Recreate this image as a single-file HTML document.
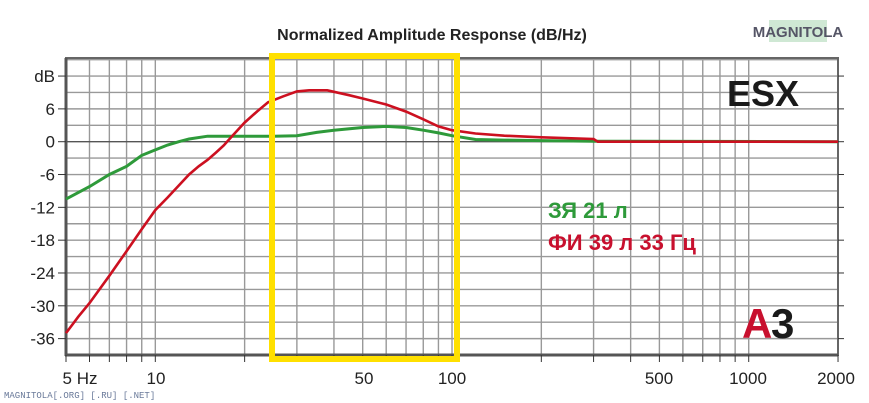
<!DOCTYPE html>
<html><head><meta charset="utf-8"><style>
body{margin:0;background:#fff;}
svg{display:block;font-family:"Liberation Sans",sans-serif;}
</style></head><body>
<svg id="s" width="869" height="403" viewBox="0 0 869 403" xmlns="http://www.w3.org/2000/svg">
<rect width="869" height="403" fill="#fff"/>
<text x="432" y="40" text-anchor="middle" font-size="16" font-weight="bold" fill="#222">Normalized Amplitude Response (dB/Hz)</text>
<g id="grid" stroke="#999" stroke-width="1.4"></g>
<rect x="66" y="58" width="772" height="297" fill="none" stroke="#666" stroke-width="2"/>
<line x1="65" y1="355" x2="838" y2="355" stroke="#555" stroke-width="3"/>
<line x1="66" y1="58" x2="66" y2="356" stroke="#555" stroke-width="3"/>
<g id="ticks" stroke="#333" stroke-width="1"></g>
<g id="ylab" font-size="17" fill="#222" text-anchor="end"></g>
<g font-size="17" fill="#222" text-anchor="middle">
<text x="80" y="384">5 Hz</text><text x="156" y="384">10</text><text x="364" y="384">50</text><text x="452" y="384">100</text><text x="659" y="384">500</text><text x="748" y="384">1000</text><text x="836" y="384">2000</text>
</g>
<path id="g" fill="none" stroke="#2e9a3a" stroke-width="3"/>
<path id="r" fill="none" stroke="#cc1020" stroke-width="2.6"/>
<rect x="272" y="56" width="185" height="303" fill="none" stroke="#ffe000" stroke-width="6"/>
<text x="727" y="106" font-size="36" font-weight="bold" fill="#1a1a1a">ESX</text>
<text x="548" y="218" font-size="22" font-weight="bold" fill="#2e9a3a">ЗЯ 21 л</text>
<text x="548" y="250" font-size="22" font-weight="bold" fill="#c8102e">ФИ 39 л 33 Гц</text>
<text x="742" y="338" font-size="42" font-weight="bold" fill="#c8102e" letter-spacing="-6">A</text>
<text x="771" y="338" font-size="42" font-weight="bold" fill="#1a1a1a">3</text>
<rect x="769" y="20" width="58" height="22" fill="#cfe8d4"/>
<text x="798" y="37" font-size="15" font-weight="bold" text-anchor="middle" fill="#556">MAGNITOLA</text>
<text x="4" y="398" font-size="9" fill="#6a7a9a" font-family="Liberation Mono,monospace">MAGNITOLA[.ORG] [.RU] [.NET]</text>
</svg>
<script>
var X=f=>66+Math.log10(f/5)*296.7, Y=d=>141.7-d*5.47;
var gr=document.getElementById('grid'),tk=document.getElementById('ticks'),yl=document.getElementById('ylab'),ns="http://www.w3.org/2000/svg";
function L(p,a){var e=document.createElementNS(ns,'line');for(var k in a)e.setAttribute(k,a[k]);p.appendChild(e);}
var fs=[6,7,8,9,10,20,30,40,50,60,70,80,90,100,200,300,400,500,600,700,800,900,1000];
fs.forEach(f=>{var x=X(f);L(gr,{x1:x,y1:58,x2:x,y2:355});L(tk,{x1:x,y1:355,x2:x,y2:362});});
[5,2000].forEach(f=>L(tk,{x1:X(f),y1:355,x2:X(f),y2:362}));
for(var d=-39;d<=15;d+=3){var y=Y(d);L(gr,{x1:66,y1:y,x2:838,y2:y,stroke:d==0?'#555':'#999'});}
for(var d=-36;d<=12;d+=6){var y=Y(d);L(tk,{x1:58,y1:y,x2:66,y2:y});L(tk,{x1:838,y1:y,x2:844,y2:y});var t=document.createElementNS(ns,'text');t.setAttribute('x',55);t.setAttribute('y',y+6);t.textContent=d==12?'dB':d;yl.appendChild(t);}
function P(id,pts){var s='';pts.forEach((p,i)=>s+=(i?'L':'M')+X(p[0]).toFixed(1)+' '+Y(p[1]).toFixed(1));document.getElementById(id).setAttribute('d',s);}
P('g',[[5,-10.5],[6,-8.2],[7,-6],[8,-4.5],[9,-2.5],[10,-1.5],[11,-0.6],[12,0],[13,0.5],[15,1],[20,1],[25,1],[30,1.1],[35,1.7],[40,2.1],[50,2.6],[60,2.8],[70,2.6],[80,2.1],[90,1.6],[100,1.1],[120,0.4],[150,0.3],[200,0.2],[300,0.1],[2000,0]]);
P('r',[[5,-35],[5.5,-32],[6,-29.5],[7,-24.5],[8,-20],[9,-16],[10,-12.5],[11,-10.2],[12,-8],[13,-6],[14,-4.5],[15,-3.3],[16,-2],[17,-0.7],[18,0.8],[19,2.2],[20,3.5],[22,5.5],[24,7.2],[27,8.3],[30,9.2],[33,9.4],[38,9.4],[45,8.5],[50,7.9],[60,6.8],[70,5.5],[80,4.1],[90,2.8],[100,2.1],[120,1.5],[150,1.1],[200,0.8],[300,0.5],[310,0],[2000,0]]);
</script>
</body></html>
